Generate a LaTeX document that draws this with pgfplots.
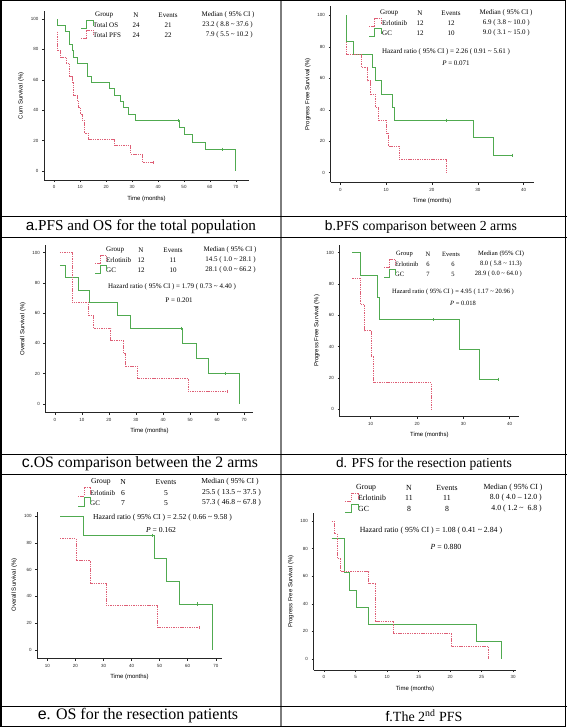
\documentclass[border=0pt]{standalone}
\usepackage{pgfplots}
\pgfplotsset{compat=1.18}
\usepackage{fontspec}
\setmainfont{Liberation Serif}
\setsansfont{Liberation Sans}
\definecolor{kmg}{RGB}{80,170,80}
\definecolor{kmr}{RGB}{222,95,118}
\definecolor{divg}{RGB}{125,125,125}
\newcommand{\fs}[1]{\fontsize{#1bp}{#1bp}\selectfont}
\newcommand{\tl}{\textasciitilde}
\pgfplotsset{
  km/.style={scale only axis, anchor=south west,
    axis x line*=bottom, axis y line*=left,
    axis line style={-, line width=0.6bp, black!85},
    x axis line style={-}, y axis line style={-},
    tick align=outside, major tick length=2.2bp,
    tick style={line width=0.5bp, black!85},
    ytick={0,20,40,60,80,100},
    tick label style={font=\sffamily\fs{4.5}, text=black!85},
    label style={font=\sffamily\fs{6}},
    /pgf/number format/assume math mode=true,
    clip=false},
  gr/.style={const plot, color=kmg, line width=1bp, mark=none},
  rd/.style={const plot, color=kmr, line width=1bp, dash pattern=on 1.4bp off 0.9bp, mark=none},
  cg/.style={only marks, mark=|, mark size=1.6bp, color=kmg, mark options={line width=0.6bp, solid}},
  cr/.style={only marks, mark=|, mark size=1.6bp, color=kmr, mark options={line width=0.6bp, solid}},
}
\begin{document}
\begin{tikzpicture}
\useasboundingbox (0,0) rectangle (567bp,-727bp);
% ---------- a ----------
\begin{axis}[km, at={(44bp,-180bp)}, width=205bp, height=168.6bp,
  xmin=-3.85, xmax=75, ymin=-5.9, ymax=105, xtick={0,10,...,70},
  xlabel={Time (months)}, ylabel={Cum Survival (\%)}]
\addplot[gr] coordinates {(1.5,100)(1.5,95.8)(4.5,91.7)(6.0,83.3)(7.1,79.2)(7.6,75)(8.9,70.8)(12.8,62.5)(14.4,58.3)(21.2,54.2)(23.4,50)(25.6,45.8)(26.8,41.7)(28.5,37.5)(31.5,33.3)(48.4,28.6)(50.0,23.8)(53.2,19.0)(58.3,14.3)(70.0,0)};
\addplot[cg] coordinates {(47.9,33.3)(64.7,14.3)};
\addplot[rd] coordinates {(1.5,91.7)(1.5,79.2)(2.4,75)(4.8,70.8)(6.0,62.5)(7.0,58.3)(7.6,50)(8.9,45.8)(9.5,41.7)(10.3,37.5)(10.9,33.3)(11.8,25)(13.1,20.8)(23.4,16.7)(29.5,11.1)(34.0,5.6)(38.2,5.6)};
\addplot[cr] coordinates {(38.2,5.6)};
\end{axis}
% ---------- b ----------
\begin{axis}[km, at={(330.7bp,-182.3bp)}, width=203bp, height=176.4bp,
  xmin=-2.1, xmax=42.2, ymin=-6.1, ymax=106, xtick={0,10,20,30,40},
  xlabel={Time (months)}, ylabel={Progress Free Survival (\%)}]
\addplot[gr] coordinates {(1.4,100)(1.4,83.3)(2.8,75)(7.0,66.7)(7.6,58.3)(8.9,50)(11.3,41.7)(11.9,33.3)(29.1,22.2)(33.5,11.1)(37.5,11.1)};
\addplot[cg] coordinates {(23.1,33.3)(37.5,11.1)};
\addplot[rd] coordinates {(1.4,83.3)(1.4,75)(4.7,66.7)(5.9,58.3)(6.6,50)(7.6,41.7)(8.4,33.3)(10.0,25)(10.6,16.7)(12.9,8.3)(23.1,0)};
\end{axis}
% ---------- c ----------
\begin{axis}[km, at={(45.7bp,-412.7bp)}, width=207.6bp, height=167.7bp,
  xmin=-3.4, xmax=73.4, ymin=-5.75, ymax=105, xtick={0,10,...,70},
  xlabel={Time (months)}, ylabel={Overall Survival (\%)}]
\addplot[gr] coordinates {(1.8,91.7)(4.0,83.3)(8.9,75)(12.9,66.7)(23.1,58.3)(28.1,50)(47.2,40)(52.4,30)(57.0,20)(68.2,0)};
\addplot[cg] coordinates {(46.9,50)(62.9,20)};
\addplot[rd] coordinates {(1.8,100)(6.5,66.7)(12.6,58.3)(14.4,50)(20.7,41.7)(25.4,33.3)(26.3,25)(30.6,16.7)(49.3,8.3)(63.9,8.3)};
\addplot[cr] coordinates {(63.9,8.3)};
\end{axis}
% ---------- d ----------
\begin{axis}[km, at={(339.7bp,-416.7bp)}, width=179.3bp, height=171.8bp,
  xmin=3.3, xmax=42, ymin=-4.9, ymax=105, xtick={10,20,30,40},
  xlabel={Time (months)}, ylabel={Progress Free Survival (\%)}]
\addplot[gr] coordinates {(6.0,100)(7.8,85.7)(11.4,71.4)(11.9,57.1)(29.1,38.1)(33.4,19.0)(37.6,19.0)};
\addplot[cg] coordinates {(23.5,57.1)(37.6,19.0)};
\addplot[rd] coordinates {(6.0,83.3)(7.8,66.7)(8.7,50)(10.1,33.3)(10.6,16.7)(23.1,0)};
\end{axis}
% ---------- e ----------
\begin{axis}[km, at={(37.3bp,-658.3bp)}, width=184.4bp, height=146.3bp,
  xmin=6.4, xmax=72.1, ymin=-6.2, ymax=103, xtick={10,20,...,70},
  xlabel={Time (months)}, ylabel={Overall Survival (\%)}]
\addplot[gr] coordinates {(14.5,100)(22.8,85.7)(48.0,68.6)(52.5,51.4)(57.2,34.3)(68.7,0)};
\addplot[cg] coordinates {(47.3,85.7)(63.4,34.3)};
\addplot[rd] coordinates {(14.5,83.3)(20.2,66.7)(25.2,50)(30.9,33.3)(49.3,16.7)(64.1,16.7)};
\addplot[cr] coordinates {(64.1,16.7)};
\end{axis}
% ---------- f ----------
\begin{axis}[km, at={(313.7bp,-670bp)}, width=202.6bp, height=156.7bp,
  xmin=-1.63, xmax=30.5, ymin=-8, ymax=105.6, xtick={0,5,...,30},
  xlabel={Time (months)}, ylabel={Progress Free Survival (\%)}]
\addplot[gr] coordinates {(1.2,87.5)(3.2,62.5)(4.1,50)(5.1,37.5)(7.1,25)(24.2,12.5)(28.1,0)};
\addplot[rd] coordinates {(1.2,100)(1.6,90.9)(2.1,72.7)(2.6,63.6)(7.1,54.5)(8.1,27.3)(11.1,18.2)(20.2,9.1)(26.1,0)};
\end{axis}
\begin{scope}[x=1bp, y=-1bp]
% table lines
\draw[divg, line width=2bp] (281,0) -- (281,727);
\draw[line width=1bp] (0,216) -- (567,216) (0,237) -- (567,237)
  (0,454) -- (567,454) (0,474) -- (567,474) (0,706) -- (567,706);
\draw[line width=1.3bp] (1,0.7) rectangle (565.8,726.3);
% captions
\begin{scope}[every node/.style={inner sep=0pt}]
\node[font=\fs{15.2}] at (141,226.5) {{\sffamily a}.PFS and OS for the total population};
\node[font=\fs{13.8}] at (421,226.5) {{\sffamily b}.PFS comparison between 2 arms};
\node[font=\fs{15.8}] at (140,464) {{\sffamily c}.OS comparison between the 2 arms};
\node[font=\fs{13.6}] at (424,464) {{\sffamily d}. PFS for the resection patients};
\node[font=\fs{16}] at (138,716) {{\sffamily e}. OS for the resection patients};
\node[font=\fs{14}] at (424,716) {{\sffamily f}.The 2\textsuperscript{nd} PFS};
\end{scope}
% legend a
\begin{scope}[every node/.style={font=\fs{7}, inner sep=0pt}]
\node[anchor=west] at (95,15) {Group};
\node at (136,15) {N}; \node at (168,15) {Events}; \node at (228,15) {Median ( 95\% CI )};
\node[anchor=west] at (93,25) {Total OS}; \node at (136,25) {24}; \node at (168,25) {21};
\node[anchor=east] at (253,25) {23.2 ( 8.8 \tl{} 37.6 )};
\node[anchor=west] at (93,35) {Total PFS}; \node at (136,35) {24}; \node at (168,35) {22};
\node[anchor=east] at (253,35) {7.9 ( 5.5 \tl{} 10.2 )};
\end{scope}
\draw[kmg, line width=0.9bp] (81,28) -- (86,28) -- (86,20) -- (93,20) -- (93,26);
\draw[kmr, line width=0.9bp, dash pattern=on 1.3bp off 0.9bp] (81,38) -- (86,38) -- (86,30) -- (93,30) -- (93,36);
% legend b
\begin{scope}[every node/.style={font=\fs{7}, inner sep=0pt}]
\node[anchor=west] at (380,13) {Group};
\node at (420,13) {N}; \node at (451,13) {Events}; \node at (506,13) {Median ( 95\% CI )};
\node[anchor=west] at (382,23) {Erlotinib}; \node at (420,23) {12}; \node at (451,23) {12};
\node[anchor=east] at (530,23) {6.9 ( 3.8 \tl{} 10.0 )};
\node[anchor=west] at (382,33) {GC}; \node at (420,33) {12}; \node at (451,33) {10};
\node[anchor=east] at (530,33) {9.0 ( 3.1 \tl{} 15.0 )};
\node at (446,52) {Hazard ratio ( 95\% CI ) = 2.26 ( 0.91 \tl{} 5.61 )};
\node at (456,63) {\textit{P} = 0.071};
\end{scope}
\draw[kmr, line width=0.9bp, dash pattern=on 1.3bp off 0.9bp] (369,26) -- (374,26) -- (374,18) -- (381,18) -- (381,24);
\draw[kmg, line width=0.9bp] (369,36) -- (374,36) -- (374,28) -- (381,28) -- (381,34);
% legend c
\begin{scope}[every node/.style={font=\fs{7}, inner sep=0pt}]
\node[anchor=west] at (106,250) {Group};
\node at (141,250) {N}; \node at (173,250) {Events}; \node at (230,250) {Median ( 95\% CI )};
\node[anchor=west] at (106,260) {Erlotinib}; \node at (141,260) {12}; \node at (173,260) {11};
\node[anchor=east] at (256,260) {14.5 ( 1.0 \tl{} 28.1 )};
\node[anchor=west] at (106,270) {GC}; \node at (141,270) {12}; \node at (173,270) {10};
\node[anchor=east] at (256,270) {28.1 ( 0.0 \tl{} 66.2 )};
\node at (172,287) {Hazard ratio ( 95\% CI ) = 1.79 ( 0.73 \tl{} 4.40 )};
\node at (179,300) {P = 0.201};
\end{scope}
\draw[kmr, line width=0.9bp, dash pattern=on 1.3bp off 0.9bp] (95,263) -- (100,263) -- (100,255) -- (106,255) -- (106,261);
\draw[kmg, line width=0.9bp] (95,273) -- (100,273) -- (100,265) -- (106,265) -- (106,271);
% legend d
\begin{scope}[every node/.style={font=\fs{6.5}, inner sep=0pt}]
\node[anchor=west] at (396,254) {Group};
\node at (428,254) {N}; \node at (451,254) {Events}; \node at (501,254) {Median (95\% CI)};
\node[anchor=west] at (395,264) {Erlotinib}; \node at (428,264) {6}; \node at (453,264) {6};
\node[anchor=east] at (522,264) {8.0 ( 5.8 \tl{} 11.3)};
\node[anchor=west] at (395,274) {GC}; \node at (428,274) {7}; \node at (453,274) {5};
\node[anchor=east] at (522,274) {28.9 ( 0.0 \tl{} 64.0 )};
\node at (453,292) {Hazard ratio ( 95\% CI ) = 4.95 ( 1.17 \tl{} 20.96 )};
\node at (463,303) {\textit{P} = 0.018};
\end{scope}
\draw[kmr, line width=0.9bp, dash pattern=on 1.3bp off 0.9bp] (384,267) -- (389,267) -- (389,259) -- (395,259) -- (395,265);
\draw[kmg, line width=0.9bp] (384,277) -- (389,277) -- (389,269) -- (395,269) -- (395,275);
% legend e
\begin{scope}[every node/.style={font=\fs{7.6}, inner sep=0pt}]
\node[anchor=west] at (91,482) {Group};
\node at (123,482) {N}; \node at (166,482) {Events}; \node at (230,482) {Median ( 95\% CI )};
\node[anchor=west, font=\fs{7}] at (90,493) {Erlotinib}; \node at (123,493) {6}; \node at (166,493) {5};
\node[anchor=east] at (261,493) {25.5 ( 13.5 \tl{} 37.5 )};
\node[anchor=west, font=\fs{7}] at (90,503) {GC}; \node at (123,503) {7}; \node at (166,503) {5};
\node[anchor=east] at (261,503) {57.3 ( 46.8 \tl{} 67.8 )};
\node at (162.5,518) {Hazard ratio ( 95\% CI ) = 2.52 ( 0.66 \tl{} 9.58 )};
\node at (161,530) {\textit{P} = 0.162};
\end{scope}
\draw[kmr, line width=0.9bp, dash pattern=on 1.3bp off 0.9bp] (78,496) -- (84,496) -- (84,487) -- (90,487) -- (90,494);
\draw[kmg, line width=0.9bp] (78,506) -- (84,506) -- (84,497) -- (90,497) -- (90,504);
% legend f
\begin{scope}[every node/.style={font=\fs{7.8}, inner sep=0pt}]
\node[anchor=west] at (356,488) {Group};
\node at (409,488) {N}; \node at (447,488) {Events}; \node at (513,488) {Median ( 95\% CI )};
\node[anchor=west] at (358,498) {Erlotinib}; \node at (409,498) {11}; \node at (447,498) {11};
\node[anchor=east] at (542,498) {8.0 ( 4.0 -- 12.0 )};
\node[anchor=west] at (358,509) {GC}; \node at (409,509) {8}; \node at (447,509) {8};
\node[anchor=east] at (542,509) {4.0 ( 1.2 \tl{} \ 6.8 )};
\node at (431,531) {Hazard ratio ( 95\% CI ) = 1.08 ( 0.41 \tl{} 2.84 )};
\node at (446,547) {\textit{P} = 0.880};
\end{scope}
\draw[kmr, line width=0.9bp, dash pattern=on 1.3bp off 0.9bp] (345,501) -- (351,501) -- (351,493) -- (358,493) -- (358,499);
\draw[kmg, line width=0.9bp] (345,512) -- (351,512) -- (351,504) -- (358,504) -- (358,510);
\end{scope}
\end{tikzpicture}
\end{document}
